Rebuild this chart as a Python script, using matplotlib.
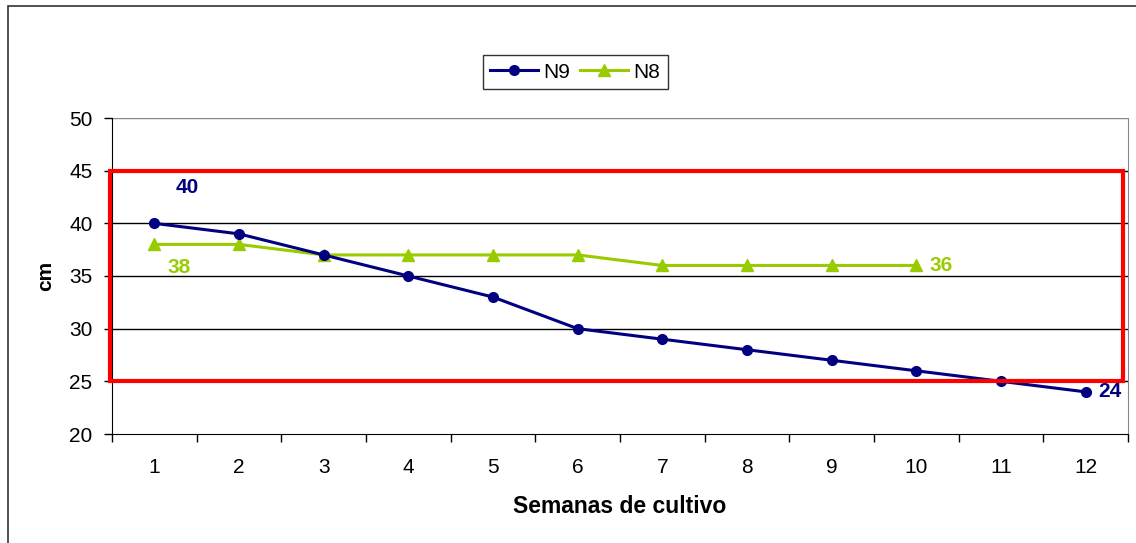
import numpy as np
import matplotlib
matplotlib.use("Agg")
import matplotlib.pyplot as plt
from matplotlib.patches import Rectangle

plt.rcParams["font.family"] = ["Liberation Sans", "DejaVu Sans"]

weeks = list(range(1, 13))
n9 = [40, 39, 37, 35, 33, 30, 29, 28, 27, 26, 25, 24]
n8 = [38, 38, 37, 37, 37, 37, 36, 36, 36, 36]
yticks = [20, 25, 30, 35, 40, 45, 50]

NAVY = "#000080"
GREEN = "#99CC00"
FS = 15

fig = plt.figure(figsize=(11.36, 5.43), dpi=100)
ax = fig.add_axes([112 / 1136, 1 - 434 / 543, 1016 / 1136, 316 / 543])

# outer chart border (only left/top visible in the reference)
fig.patches.append(Rectangle((8 / 1136, -0.1), 1.2, 1.1 - 6 / 543,
                             transform=fig.transFigure, fill=False,
                             edgecolor="#333333", lw=1.2))

x9 = np.arange(len(n9))
x8 = np.arange(len(n8))
ax.plot(x9, n9, color=NAVY, lw=2.2, marker="o", ms=7, label="N9", zorder=4)
ax.plot(x8, n8, color=GREEN, lw=2.2, marker="^", ms=8, label="N8", zorder=3)

ax.set_xlim(-0.5, len(weeks) - 0.5)
ax.set_ylim(20, 50)
ax.set_yticks(yticks)
ax.set_yticklabels([str(v) for v in yticks], fontsize=FS)
ax.set_xticks(np.arange(len(weeks)))
ax.set_xticklabels([str(w) for w in weeks], fontsize=FS)
ax.set_xticks(np.arange(len(weeks) + 1) - 0.5, minor=True)
ax.tick_params(axis="x", which="major", length=0, pad=17)
ax.tick_params(axis="x", which="minor", length=6, width=1, color="black")
ax.tick_params(axis="y", length=6, width=1, pad=8)

for v in yticks[1:-1]:
    ax.axhline(v, color="black", lw=1, zorder=1)
ax.axhline(50, color="#888888", lw=1, zorder=1)

ax.spines["top"].set_visible(False)
ax.spines["right"].set_color("#888888")
ax.spines["left"].set_color("black")
ax.spines["bottom"].set_color("black")

# red highlight box 25-45
ax.add_patch(Rectangle((-0.002, 25), 0.9975, 20, transform=ax.get_yaxis_transform(),
                       fill=False, edgecolor="#FF0000", lw=3, zorder=5, clip_on=False))

# data labels
ax.text(x9[0] + 0.25, 43.4, str(n9[0]), color=NAVY, fontsize=FS, fontweight="bold",
        ha="left", va="center")
ax.text(x8[0] + 0.15, 35.8, str(n8[0]), color=GREEN, fontsize=FS, fontweight="bold",
        ha="left", va="center")
ax.text(x8[-1] + 0.15, 36.0, str(n8[-1]), color=GREEN, fontsize=FS, fontweight="bold",
        ha="left", va="center")
ax.text(x9[-1] + 0.15, 24.0, str(n9[-1]), color=NAVY, fontsize=FS, fontweight="bold",
        ha="left", va="center")

ax.set_xlabel("Semanas de cultivo", fontsize=16.5, fontweight="bold", labelpad=13)
ax.set_ylabel("cm", fontsize=FS, fontweight="bold", labelpad=10)

leg = ax.legend(loc="center", bbox_to_anchor=(575 / 1136, 1 - 72 / 543),
                bbox_transform=fig.transFigure, ncol=2, fontsize=FS, frameon=True,
                fancybox=False, edgecolor="black", handlelength=2.3,
                columnspacing=0.5, handletextpad=0.25, borderpad=0.35)
leg.get_frame().set_linewidth(1)

fig.savefig("out.png", dpi=100)
